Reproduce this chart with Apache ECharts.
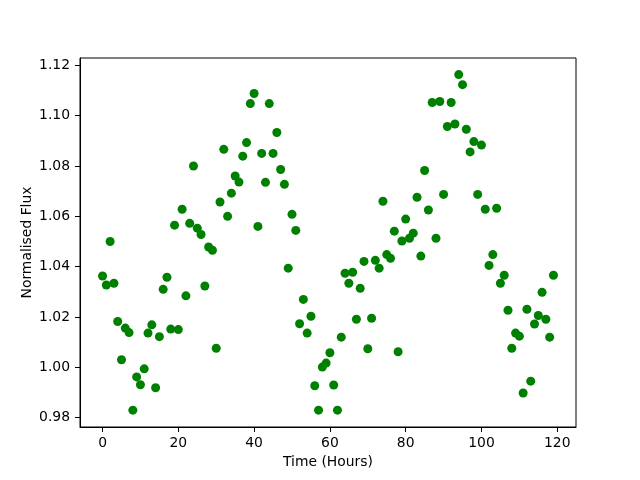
<!DOCTYPE html>
<html>
<head>
<meta charset="utf-8">
<script src="https://cdn.jsdelivr.net/npm/echarts@6/dist/echarts.min.js"></script>
<style>
  html, body { margin: 0; padding: 0; background: #fff; }
  #chart { width: 640px; height: 480px; }
</style>
</head>
<body>
<div id="chart"></div>
<script>
// hours 0..119, one reading each
const hours = Array.from({ length: 120 }, (_, i) => i);

const flux = [
  1.0363, 1.0327, 1.0500, 1.0334, 1.0182, 1.0030, 1.0156, 1.0138, 0.9830, 0.9962,
  0.9931, 0.9994, 1.0136, 1.0169, 0.9919, 1.0122, 1.0310, 1.0358, 1.0152, 1.0565,
  1.0150, 1.0628, 1.0284, 1.0572, 1.0800, 1.0553, 1.0528, 1.0323, 1.0478, 1.0465,
  1.0076, 1.0657, 1.0866, 1.0600, 1.0692, 1.0760, 1.0736, 1.0839, 1.0893, 1.1048,
  1.1088, 1.0560, 1.0850, 1.0735, 1.1048, 1.0850, 1.0933, 1.0786, 1.0727, 1.0394,
  1.0608, 1.0544, 1.0173, 1.0270, 1.0136, 1.0203, 0.9927, 0.9830, 1.0001, 1.0017,
  1.0058, 0.9930, 0.9830, 1.0120, 1.0374, 1.0334, 1.0378, 1.0191, 1.0314, 1.0421,
  1.0074, 1.0195, 1.0425, 1.0394, 1.0660, 1.0448, 1.0433, 1.0541, 1.0062, 1.0502,
  1.0589, 1.0513, 1.0533, 1.0676, 1.0442, 1.0782, 1.0625, 1.1052, 1.0513, 1.1056,
  1.0687, 1.0957, 1.1052, 1.0967, 1.1163, 1.1123, 1.0946, 1.0856, 1.0897, 1.0687,
  1.0883, 1.0628, 1.0405, 1.0448, 1.0632, 1.0334, 1.0366, 1.0227, 1.0076, 1.0136,
  1.0124, 0.9898, 1.0231, 0.9945, 1.0172, 1.0206, 1.0298, 1.0191, 1.0120, 1.0366
];

const xTicks = [0, 20, 40, 60, 80, 100, 120];
const yTicks = [0.98, 1.00, 1.02, 1.04, 1.06, 1.08, 1.10, 1.12];

const font = 'DejaVu Sans';

const chart = echarts.init(document.getElementById('chart'), null, { renderer: 'canvas' });

chart.setOption({
  animation: false,
  backgroundColor: '#ffffff',
  grid: {
    left: 80, right: 64, top: 58, bottom: 53,
    show: true,
    borderColor: '#000',
    borderWidth: 1,
    backgroundColor: 'transparent'
  },
  xAxis: {
    type: 'value',
    min: -5.95,
    max: 124.95,
    name: 'Time (Hours)',
    nameLocation: 'middle',
    nameGap: 28,
    nameMoveOverlap: false,
    nameTextStyle: { color: '#000', fontFamily: font, fontSize: 13.9 },
    axisLine: { show: true, onZero: false, lineStyle: { color: '#000', width: 1 } },
    axisTick: { show: true, length: 5, lineStyle: { color: '#000' }, customValues: xTicks },
    axisLabel: { color: '#000', fontFamily: font, fontSize: 13.9, margin: 9, customValues: xTicks },
    splitLine: { show: false }
  },
  yAxis: {
    type: 'value',
    min: 0.9763,
    max: 1.1229,
    name: 'Normalised Flux',
    nameLocation: 'middle',
    nameGap: 46,
    nameMoveOverlap: false,
    nameTextStyle: { color: '#000', fontFamily: font, fontSize: 13.9 },
    axisLine: { show: true, onZero: false, lineStyle: { color: '#000', width: 1 } },
    axisTick: { show: true, length: 5, lineStyle: { color: '#000' }, customValues: yTicks },
    axisLabel: {
      color: '#000', fontFamily: font, fontSize: 13.9, margin: 10,
      customValues: yTicks,
      formatter: v => v.toFixed(2)
    },
    splitLine: { show: false }
  },
  series: [{
    type: 'scatter',
    symbol: 'circle',
    symbolSize: 9,
    itemStyle: { color: '#008000', opacity: 1 },
    data: hours.map((h, i) => [h, flux[i]])
  }]
});
</script>
</body>
</html>
